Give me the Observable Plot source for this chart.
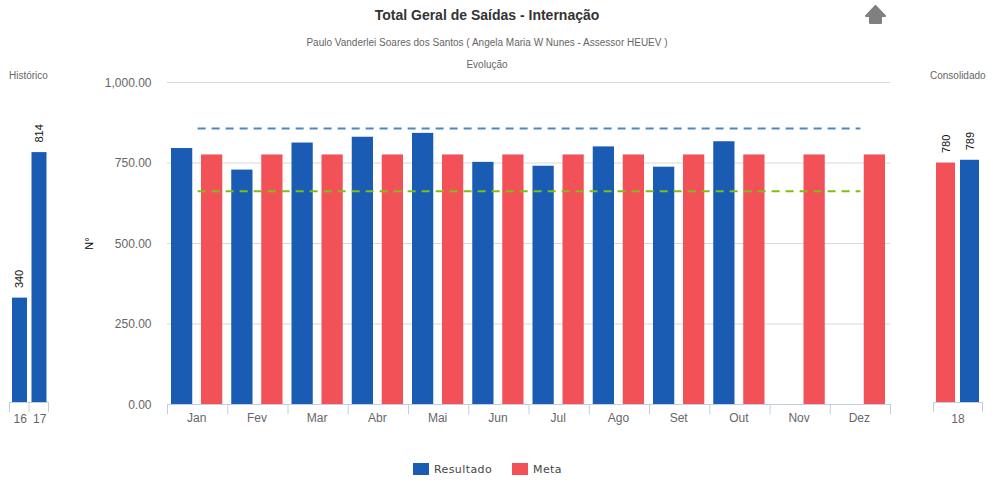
<!DOCTYPE html>
<html><head><meta charset="utf-8">
<script src="https://cdn.jsdelivr.net/npm/d3@7"></script>
<script src="https://cdn.jsdelivr.net/npm/@observablehq/plot@0.6"></script>
<style>
html,body{margin:0;padding:0;background:#fff}
#root{position:relative;width:1000px;height:500px;overflow:hidden;font-family:"Liberation Sans",Arial,sans-serif}
#root svg{position:absolute;background:transparent}
.t{position:absolute;white-space:nowrap;color:#666;font-size:10px;line-height:12px}
.c{transform:translateX(-50%)}
.lg{position:absolute;font-family:"DejaVu Sans",sans-serif;font-size:11px;color:#444;letter-spacing:.4px;line-height:14px;top:463px}
.sw{position:absolute;width:16px;height:12px;top:463px}
</style></head><body>
<div id="root">
<div class="t c" style="left:487px;top:7px;font-size:14px;line-height:16px;font-weight:bold;color:#333">Total Geral de Saídas - Internação</div>
<div class="t c" style="left:487px;top:37px">Paulo Vanderlei Soares dos Santos ( Angela Maria W Nunes - Assessor HEUEV )</div>
<div class="t c" style="left:487px;top:59px">Evolução</div>
<div class="t" style="left:9px;top:70px">Histórico</div>
<div class="t" style="left:930px;top:70px">Consolidado</div>
<svg style="left:865px;top:5px" width="22" height="20" viewBox="0 0 22 20"><path d="M10.5 1 L20 11 L16 11 L16 18 L5 18 L5 11 L1 11 Z" fill="#808080" stroke="#808080" stroke-width="2" stroke-linejoin="round"/></svg>
<div class="sw" style="left:413px;background:#1a5cb4"></div><div class="lg" style="left:434px">Resultado</div>
<div class="sw" style="left:512px;background:#f25257"></div><div class="lg" style="left:533px">Meta</div>
</div>
<script>
const months = ["Jan","Fev","Mar","Abr","Mai","Jun","Jul","Ago","Set","Out","Nov","Dez"];
const resultado = [795,728,812,830,842,752,740,800,737,816,null,null];
const meta = [775,775,775,775,775,775,775,775,775,775,775,775];
const limiteSuperior = [857,857,857,857,857,857,857,857,857,857,857,857];
const limiteInferior = [662,662,662,662,662,662,662,662,662,662,662,662];
const histAnos = ["16","17"];
const histValores = [340,814];
const consAno = ["18"];
const consMeta = [780];
const consResultado = [789];
const yTicks = [0,250,500,750,1000];

const BLUE="#1a5cb4", RED="#f25257", TICK="#c0d0e0", GRID="#d8d8d8", FONT="Liberation Sans, Arial, sans-serif";
const root=document.getElementById("root");
const tab=(k,v)=>k.map((x,i)=>({k:x,v:v[i]}));
const place=(svg,l)=>{svg.style.left=l+"px";svg.style.top="0px";root.appendChild(svg)};
const style={fontFamily:FONT,fontSize:"12px",color:"#666",background:"transparent"};
const tickLen=-32;

// Main chart
const step=(890-167)/12;
const dash={strokeWidth:2,strokeDasharray:"8,6",strokeLinecap:"butt"};
place(Plot.plot({
  width:1000,height:500,marginLeft:167,marginRight:110,marginTop:82,marginBottom:96,style,
  x:{type:"band",domain:months,padding:0,round:false,label:null},
  y:{domain:[0,1000],label:null},
  marks:[
    Plot.ruleY(yTicks.slice(1),{stroke:GRID}),
    Plot.barY(tab(months,resultado).filter(d=>d.v!=null),{x:"k",y:"v",fill:BLUE,insetLeft:4,insetRight:35}),
    Plot.barY(tab(months,meta),{x:"k",y:"v",fill:RED,insetLeft:34,insetRight:5}),
    Plot.ruleY([0],{stroke:TICK}),
    Plot.ruleX(months,{x:d=>d,y1:0,y2:tickLen,stroke:TICK,dx:-step/2}),
    Plot.ruleX(months.slice(-1),{x:d=>d,y1:0,y2:tickLen,stroke:TICK,dx:step/2}),
    Plot.line(tab(months,limiteSuperior),{x:"k",y:"v",stroke:"#4f88bd",...dash}),
    Plot.line(tab(months,limiteInferior),{x:"k",y:"v",stroke:"#7fbf14",...dash}),
    Plot.axisX({tickSize:0,tickPadding:9,dx:-1,label:null,fill:"#666"}),
    Plot.axisY({ticks:yTicks,tickSize:0,tickPadding:16,dy:0.5,tickFormat:d3.format(",.2f"),label:null,fill:"#666"}),
    Plot.axisY({ticks:[],label:"N°",labelAnchor:"center",labelArrow:"none",labelOffset:82,fill:"#000",fontSize:11})
  ]
}),0);

// Historical chart
const sideY={domain:[0,1000],label:null};
const hist=tab(histAnos,histValores);
place(Plot.plot({
  width:60,height:500,marginLeft:9,marginRight:12,marginTop:95,marginBottom:98,style,
  x:{type:"band",domain:histAnos,padding:0,round:false,label:null},y:sideY,
  marks:[
    Plot.barY(hist,{x:"k",y:"v",fill:BLUE,insetLeft:3,insetRight:1.5}),
    Plot.ruleY([0],{stroke:TICK}),
    Plot.ruleX(histAnos,{x:d=>d,y1:0,y2:-33,stroke:TICK,dx:-9.75}),
    Plot.ruleX(histAnos.slice(-1),{x:d=>d,y1:0,y2:-33,stroke:TICK,dx:9.75}),
    Plot.text(hist,{x:"k",y:"v",text:d=>String(d.v),rotate:-90,textAnchor:"start",dy:-10,dx:0.5,fill:"#111",fontSize:11,fontFamily:FONT}),
    Plot.axisX({tickSize:0,tickPadding:12,dx:1,label:null,fill:"#666"}),
    Plot.axisY({ticks:[],label:null})
  ]
}),0);

// Consolidated chart
place(Plot.plot({
  width:75,height:500,marginLeft:8,marginRight:18,marginTop:95,marginBottom:98,style,
  x:{type:"band",domain:consAno,padding:0,round:false,label:null},y:sideY,
  marks:[
    Plot.barY(tab(consAno,consMeta),{x:"k",y:"v",fill:RED,insetLeft:3,insetRight:27}),
    Plot.barY(tab(consAno,consResultado),{x:"k",y:"v",fill:BLUE,insetLeft:27,insetRight:3}),
    Plot.ruleY([0],{stroke:TICK}),
    Plot.ruleX(consAno,{x:d=>d,y1:0,y2:-33,stroke:TICK,dx:-24.5}),
    Plot.ruleX(consAno,{x:d=>d,y1:0,y2:-33,stroke:TICK,dx:24.5}),
    Plot.text(tab(consAno,consMeta),{x:"k",y:"v",text:d=>String(d.v),rotate:-90,textAnchor:"start",dy:-10,dx:-12,fill:"#111",fontSize:11,fontFamily:FONT}),
    Plot.text(tab(consAno,consResultado),{x:"k",y:"v",text:d=>String(d.v),rotate:-90,textAnchor:"start",dy:-10,dx:12,fill:"#111",fontSize:11,fontFamily:FONT}),
    Plot.axisX({tickSize:0,tickPadding:12,label:null,fill:"#666"}),
    Plot.axisY({ticks:[],label:null})
  ]
}),925);
</script>
</body></html>
